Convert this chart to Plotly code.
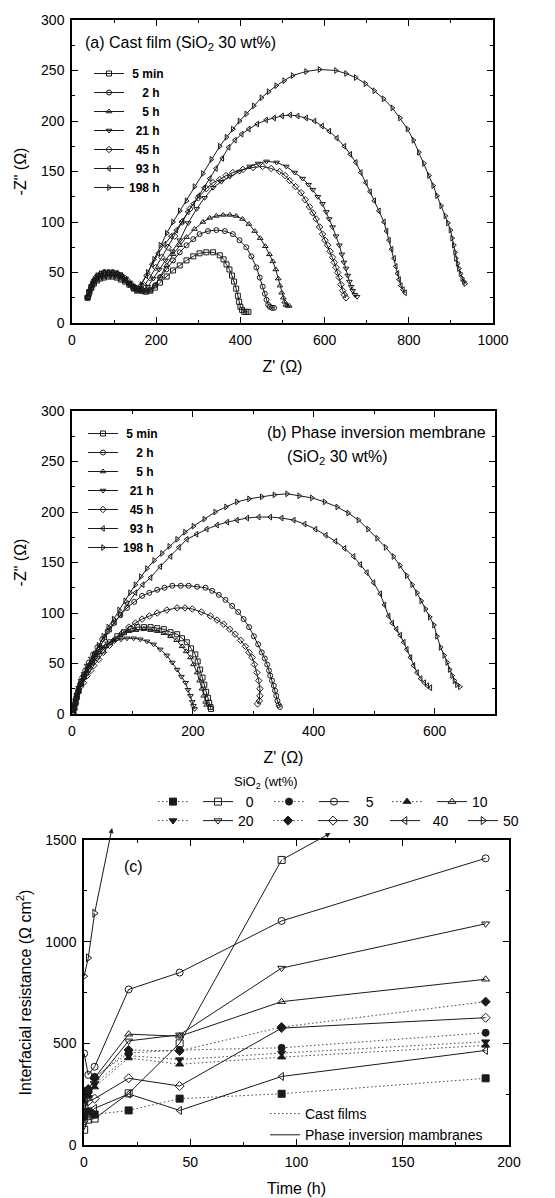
import plotly.graph_objects as go

FONT = "Liberation Sans, Arial, Helvetica, sans-serif"
INK = "#1a1a1a"
DOTS = "1.5px,2.5px"
# the page body adds an 8 px margin; the figure fills the rest of the 555x1198 window
OFF = 8
W, H = 555 - OFF, 1198 - OFF

# ---------------- Panel (a): cast film, SiO2 30 wt% ----------------
a_labels = ["\u00a05 min", "\u00a0\u00a0\u00a0\u00a02 h", "\u00a0\u00a0\u00a0\u00a05 h",
            "\u00a0\u00a021 h", "\u00a0\u00a045 h", "\u00a0\u00a093 h", "198 h"]

a_5min_x = [37, 41, 46, 52, 59, 67, 76, 86, 96, 106, 116, 126, 136, 146, 156, 166, 176, 186, 197, 209,
            225, 240, 256, 272, 288, 303, 319, 335, 351, 360, 367, 374, 380, 385, 390, 394, 397, 400, 404, 409,
            414, 419]
a_5min_y = [25, 30, 35, 39, 42, 44, 45, 46, 46, 45, 43, 41, 38, 35, 33, 32, 31, 32, 35, 40,
            46, 52, 57, 62, 66, 69, 70, 70, 67, 63, 58, 53, 47, 41, 34, 27, 21, 16, 13, 11,
            11, 11]

a_2h_x = [37, 41, 46, 52, 59, 67, 76, 86, 96, 106, 116, 126, 136, 146, 156, 166, 176, 186, 197, 209,
          224, 240, 256, 272, 288, 303, 323, 343, 363, 382, 398, 414, 426, 438, 446, 453, 458, 462, 466, 470,
          475, 480]
a_2h_y = [25, 30, 35, 40, 43, 45, 46, 47, 47, 46, 44, 42, 39, 36, 34, 33, 32, 33, 37, 45,
          53, 62, 70, 77, 83, 88, 91, 92, 91, 88, 82, 75, 66, 55, 45, 36, 29, 23, 18, 16,
          15, 15]

a_5h_x = [37, 41, 46, 52, 59, 67, 76, 86, 96, 106, 116, 126, 136, 146, 156, 166, 176, 186, 198, 210,
          225, 240, 256, 272, 291, 311, 327, 343, 359, 375, 390, 405, 420, 434, 447, 459, 469, 477, 484, 490,
          494, 498, 502, 505, 508, 512, 516]
a_5h_y = [25, 31, 36, 41, 44, 47, 48, 48, 48, 47, 45, 42, 39, 36, 34, 32, 31, 32, 38, 46,
          57, 68, 77, 85, 93, 100, 104, 106, 107, 107, 106, 103, 98, 91, 84, 76, 68, 61, 53, 44,
          37, 30, 25, 21, 18, 17, 17]

a_21h_x = [38, 42, 47, 53, 60, 68, 77, 87, 97, 107, 117, 127, 137, 147, 157, 168, 180, 193, 207, 222,
           238, 256, 276, 296, 315, 335, 355, 375, 398, 422, 442, 462, 486, 509, 529, 548, 562, 572, 584, 595,
           604, 611, 619, 627, 635, 641, 646, 651, 655, 659, 663, 667, 672, 677]
a_21h_y = [26, 32, 37, 42, 46, 48, 50, 50, 50, 49, 47, 44, 40, 36, 33, 31, 36, 44, 53, 62,
           71, 82, 99, 113, 124, 134, 140, 145, 150, 155, 158, 160, 159, 155, 149, 143, 137, 132, 125, 118,
           110, 103, 95, 86, 77, 68, 60, 54, 47, 41, 36, 32, 28, 26]

a_45h_x = [38, 42, 47, 53, 60, 68, 77, 87, 97, 107, 117, 127, 137, 147, 160, 172, 185, 199, 213, 228,
           244, 262, 280, 300, 319, 335, 351, 366, 382, 406, 430, 453, 473, 493, 506, 517, 531, 544, 554, 564,
           572, 580, 588, 595, 601, 607, 613, 619, 623, 627, 631, 635, 639, 643, 647, 651]
a_45h_y = [26, 32, 37, 42, 46, 48, 50, 50, 50, 49, 47, 44, 40, 36, 32, 37, 45, 55, 65, 75,
           86, 100, 113, 124, 133, 139, 142, 146, 149, 152, 154, 155, 153, 150, 146, 141, 135, 129, 122, 115,
           109, 103, 95, 88, 82, 77, 71, 65, 60, 55, 50, 45, 38, 32, 28, 25]

a_93h_x = [38, 42, 47, 53, 60, 68, 77, 87, 97, 107, 117, 127, 137, 145, 152, 162, 176, 190, 205, 220,
           235, 248, 262, 275, 288, 301, 314, 327, 342, 357, 372, 387, 403, 420, 440, 461, 480, 499, 518, 536,
           556, 576, 594, 611, 629, 647, 661, 674, 686, 698, 708, 718, 729, 741, 747, 753, 759, 765, 769, 773,
           777, 781, 786, 791]
a_93h_y = [26, 32, 38, 43, 47, 49, 50, 50, 50, 49, 47, 43, 38, 34, 32, 37, 47, 58, 69, 78,
           86, 92, 101, 110, 118, 126, 134, 143, 153, 163, 174, 181, 187, 192, 197, 201, 203, 205, 206, 205,
           203, 200, 195, 190, 183, 175, 167, 159, 149, 139, 130, 121, 111, 100, 91, 82, 73, 64, 56, 49,
           43, 37, 33, 30]

a_198h_x = [38, 42, 47, 53, 60, 68, 77, 87, 97, 107, 117, 127, 137, 145, 152, 165, 180, 195, 210, 225,
            240, 256, 272, 291, 311, 331, 351, 367, 382, 398, 414, 432, 450, 467, 485, 504, 524, 556, 588, 627,
            651, 674, 697, 718, 740, 761, 779, 797, 811, 824, 836, 848, 858, 867, 877, 887, 893, 899, 903, 907,
            910, 912, 916, 919, 923, 927, 931, 934]
a_198h_y = [26, 32, 38, 43, 47, 49, 50, 50, 50, 49, 47, 43, 38, 34, 32, 38, 50, 63, 77, 89,
            100, 111, 121, 135, 148, 162, 175, 184, 192, 200, 207, 215, 223, 229, 235, 240, 245, 249, 251, 250,
            247, 243, 237, 230, 222, 213, 203, 192, 181, 169, 158, 146, 136, 126, 116, 106, 99, 92, 84, 77,
            70, 64, 59, 54, 49, 44, 41, 39]

# ---------------- Panel (b): phase inversion membrane, SiO2 30 wt% ----------------
b_labels = a_labels

b_5min_x = [2, 4, 6, 8, 11, 15, 20, 26, 33, 41, 51, 63, 75, 86, 97, 108, 119, 130, 141, 152,
            163, 174, 182, 190, 197, 204, 208, 212, 216, 219, 222, 225, 227, 229, 230]
b_5min_y = [1, 6, 11, 17, 23, 30, 37, 44, 51, 57, 63, 71, 77, 81, 84, 86, 86, 86, 85, 84,
            81, 79, 75, 71, 65, 59, 52, 44, 36, 29, 22, 16, 11, 7, 5]

b_2h_x = [2, 3, 5, 7, 10, 13, 17, 22, 28, 35, 42, 50, 59, 69, 80, 91, 103, 116, 128, 141,
          153, 166, 180, 193, 207, 221, 232, 243, 254, 265, 275, 284, 293, 301, 308, 314, 319, 323, 326, 328,
          331, 334, 336, 338, 340, 342, 344]
b_2h_y = [1, 5, 10, 16, 22, 29, 36, 43, 51, 59, 66, 74, 82, 90, 98, 105, 111, 117, 120, 123,
          125, 127, 127, 127, 126, 125, 122, 118, 113, 107, 101, 94, 86, 77, 69, 61, 55, 49, 43, 38,
          33, 28, 23, 18, 13, 9, 7]

b_5h_x = [2, 4, 6, 8, 11, 15, 20, 27, 35, 44, 55, 68, 80, 94, 106, 119, 130, 141, 152, 163,
          173, 182, 189, 196, 201, 207, 211, 215, 218, 221, 223]
b_5h_y = [1, 6, 12, 18, 25, 32, 39, 47, 54, 61, 67, 73, 78, 82, 83, 84, 83, 82, 80, 77,
          73, 67, 62, 56, 49, 41, 33, 25, 18, 12, 9]

b_21h_x = [2, 4, 6, 8, 11, 15, 20, 25, 32, 40, 49, 59, 70, 81, 91, 102, 113, 124, 135, 146,
           157, 166, 174, 181, 188, 192, 196, 199, 201, 203]
b_21h_y = [1, 7, 13, 19, 26, 33, 40, 48, 55, 61, 66, 70, 72, 74, 75, 75, 74, 72, 69, 64,
           58, 51, 44, 37, 31, 24, 18, 12, 8, 5]

b_45h_x = [2, 3, 5, 7, 10, 14, 19, 25, 31, 36, 44, 52, 62, 72, 83, 94, 105, 116, 128, 141,
           157, 174, 187, 199, 214, 229, 240, 251, 261, 270, 279, 287, 293, 298, 302, 306, 309, 311, 311, 310,
           307]
b_45h_y = [1, 5, 10, 15, 21, 27, 31, 38, 43, 48, 54, 61, 68, 74, 80, 86, 90, 94, 97, 100,
           103, 105, 105, 104, 101, 97, 93, 89, 84, 79, 73, 67, 61, 56, 49, 41, 33, 25, 18, 13,
           10]

b_93h_x = [2, 4, 6, 9, 12, 17, 25, 33, 40, 47, 55, 63, 71, 80, 92, 105, 117, 130, 146, 163,
           177, 190, 206, 223, 240, 257, 273, 290, 309, 328, 347, 367, 385, 403, 420, 436, 451, 466, 477, 488,
           499, 510, 517, 524, 530, 537, 543, 549, 554, 560, 565, 571, 577, 583, 588, 593]
b_93h_y = [1, 6, 12, 18, 24, 31, 41, 51, 59, 67, 76, 84, 91, 98, 109, 120, 128, 135, 146, 156,
           165, 173, 178, 183, 187, 190, 192, 194, 195, 195, 194, 192, 188, 183, 177, 171, 164, 156, 148, 140,
           130, 119, 108, 97, 90, 84, 78, 71, 64, 56, 48, 41, 35, 31, 28, 26]

b_198h_x = [2, 4, 7, 10, 14, 19, 27, 36, 44, 52, 60, 69, 78, 88, 96, 105, 114, 124, 136, 149,
            161, 174, 187, 201, 219, 237, 255, 273, 293, 314, 335, 356, 376, 397, 418, 439, 457, 474, 490, 505,
            519, 532, 543, 554, 563, 571, 578, 585, 592, 599, 604, 610, 616, 621, 625, 629, 633, 637, 642]
b_198h_y = [1, 7, 14, 22, 29, 35, 47, 58, 68, 77, 86, 94, 103, 112, 120, 128, 136, 144, 152, 159,
            166, 173, 180, 186, 193, 200, 205, 210, 213, 215, 217, 218, 216, 214, 210, 205, 199, 192, 183, 174,
            165, 156, 147, 137, 128, 120, 112, 104, 96, 88, 77, 66, 58, 51, 44, 38, 33, 29, 27]

# ---------------- Panel (c): interfacial resistance vs time ----------------
c_time = [0.08, 2, 5, 21, 45, 93, 189]
# cast films (filled markers, dotted)
c_cast_0 = [140, 165, 150, 170, 228, 252, 328]
c_cast_5 = [250, 262, 335, 452, 467, 478, 552]
c_cast_10 = [215, 240, 285, 428, 397, 432, 490]
c_cast_20 = [230, 255, 300, 440, 420, 452, 508]
c_cast_30 = [262, 275, 330, 467, 463, 580, 705]
# phase inversion membranes (open markers, solid)
c_pi_0 = [75, 125, 130, 254, 500, 1402]
c_pi_5 = [450, 345, 385, 765, 848, 1102, 1410]
c_pi_10 = [205, 265, 330, 545, 535, 705, 815]
c_pi_20 = [165, 235, 305, 512, 542, 870, 1088]
c_pi_30 = [185, 215, 228, 328, 290, 575, 626]
c_pi_40 = [115, 150, 180, 251, 170, 337, 465]
c_pi_50 = [830, 920, 1140]
# where the off-scale arrows point (time, resistance)
c_arrow_0 = [116, 1534]
c_arrow_50 = [13.2, 1559]
c_legend_labels = ["0", "5", "10", "20", "30", "40", "50"]

OPEN_SYMS = ["square-open", "circle-open", "triangle-up-open", "triangle-down-open",
             "diamond-open", "triangle-left-open", "triangle-right-open"]
FILLED_SYMS = ["square", "circle", "triangle-up", "triangle-down", "diamond"]

fig = go.Figure()


def curve(xs, ys, name, sym, xa, ya, leg, size=5, dash="solid", color=INK, legendwidth=None):
    kw = {}
    if legendwidth is not None:
        kw["legendwidth"] = legendwidth
    fig.add_trace(go.Scatter(
        x=xs, y=ys, name=name, mode="lines+markers", xaxis=xa, yaxis=ya, legend=leg,
        line=dict(color=color, width=1, dash=dash),
        marker=dict(symbol=sym, size=size, color=INK, line=dict(width=1, color=INK)), **kw))


a_series = [(a_5min_x, a_5min_y), (a_2h_x, a_2h_y), (a_5h_x, a_5h_y), (a_21h_x, a_21h_y),
            (a_45h_x, a_45h_y), (a_93h_x, a_93h_y), (a_198h_x, a_198h_y)]
for (xs, ys), lab, sym in zip(a_series, a_labels, OPEN_SYMS):
    curve(xs, ys, lab, sym, "x", "y", "legend")

b_series = [(b_5min_x, b_5min_y), (b_2h_x, b_2h_y), (b_5h_x, b_5h_y), (b_21h_x, b_21h_y),
            (b_45h_x, b_45h_y), (b_93h_x, b_93h_y), (b_198h_x, b_198h_y)]
for (xs, ys), lab, sym in zip(b_series, b_labels, OPEN_SYMS):
    curve(xs, ys, lab, sym, "x2", "y2", "legend2")

cast = [c_cast_0, c_cast_5, c_cast_10, c_cast_20, c_cast_30]
pi = [c_pi_0, c_pi_5, c_pi_10, c_pi_20, c_pi_30, c_pi_40, c_pi_50]
nb = "\u00a0"
pad = [2, 3, 0, 0, 0, 2, 0]
pi_names = [nb * p + lab for p, lab in zip(pad, c_legend_labels)]
pi_widths = [26, 28, None, 25, 27, 33, None]
# row 1 of the concentration legend: 0, 5, 10 ; row 2: 20, 30, 40, 50
for i in range(7):
    leg = "legend3" if i < 3 else "legend4"
    if i < 5:
        curve(c_time[:len(cast[i])], cast[i], "", FILLED_SYMS[i], "x3", "y3", leg,
              size=7, dash=DOTS, color="#444444")
    curve(c_time[:len(pi[i])], pi[i], pi_names[i], OPEN_SYMS[i], "x3", "y3", leg,
          size=7, legendwidth=pi_widths[i])

# line-style key inside panel (c)
for nm, dsh, col in [("Cast films", DOTS, "#444444"), ("Phase inversion mambranes", "solid", INK)]:
    fig.add_trace(go.Scatter(x=[None], y=[None], mode="lines", name=nm, xaxis="x3", yaxis="y3",
                             legend="legend5", line=dict(color=col, width=1, dash=dsh)))


def fx(px):
    return (px - OFF) / W


def fy(py):
    return 1 - (py - OFF) / H


def axis(dom, rng, dtick, mdtick, title, anchor, standoff):
    return dict(domain=dom, range=rng, dtick=dtick, tick0=0, anchor=anchor,
                showline=True, linecolor="black", linewidth=1.5, mirror="ticks",
                ticks="inside", ticklen=6, tickwidth=1, tickcolor="black",
                showgrid=False, zeroline=False, ticklabelstandoff=3,
                tickfont=dict(size=14, color="black", family=FONT),
                minor=dict(ticks="inside", ticklen=3, tickwidth=1, tickcolor="black",
                           dtick=mdtick, tick0=0, showgrid=False),
                title=dict(text=title, font=dict(size=16, color="black", family=FONT),
                           standoff=standoff))


def legend_cfg(x, y, size, weight="normal", **extra):
    d = dict(x=x, y=y, bgcolor="rgba(0,0,0,0)", borderwidth=0, xanchor="left", yanchor="top",
             tracegroupgap=0, font=dict(size=size, color="black", family=FONT, weight=weight))
    d.update(extra)
    return d


fig.update_layout(
    width=W, height=H, margin=dict(l=0, r=0, t=0, b=0),
    template="none", paper_bgcolor="white", plot_bgcolor="white",
    font=dict(family=FONT, color="black", size=14),
    xaxis=axis([fx(72), fx(493)], [0, 1000], 200, 100, "Z' (\u03a9)", "y", 14),
    yaxis=axis([fy(323), fy(20)], [0, 300], 50, 25, '-Z" (\u03a9)', "x", 10),
    xaxis2=axis([fx(72), fx(495)], [0, 700], 200, 100, "Z' (\u03a9)", "y2", 14),
    yaxis2=axis([fy(714), fy(411)], [0, 300], 50, 25, '-Z" (\u03a9)', "x2", 10),
    xaxis3=axis([fx(84), fx(509)], [0, 200], 50, 25, "Time (h)", "y3", 14),
    yaxis3=axis([fy(1145), fy(840)], [0, 1500], 500, 250,
                "Interfacial resistance (\u03a9 cm<sup>2</sup>)", "x3", 10),
    legend=legend_cfg(fx(89), fy(59), 12, "bold"),
    legend2=legend_cfg(fx(83), fy(419), 12, "bold"),
    legend3=legend_cfg(fx(153), fy(786), 14, orientation="h"),
    legend4=legend_cfg(fx(153), fy(805), 14, orientation="h"),
    legend5=legend_cfg(fx(265), fy(1098), 14),
)

ann_font = dict(family=FONT, color="black", size=16)
annotations = [
    dict(text="(a) Cast film (SiO<sub>2</sub> 30 wt%)", x=fx(83), y=fy(43), xanchor="left"),
    dict(text="(b) Phase inversion membrane", x=fx(488), y=fy(432), xanchor="right"),
    dict(text="(SiO<sub>2</sub> 30 wt%)", x=fx(337), y=fy(457), xanchor="center"),
    dict(text="(c)", x=fx(133), y=fy(866), xanchor="center"),
    dict(text="SiO<sub>2</sub> (wt%)", x=fx(266), y=fy(782), xanchor="center",
         font=dict(family=FONT, color="black", size=13)),
]
anns = []
for a in annotations:
    a.setdefault("font", ann_font)
    anns.append(dict(xref="paper", yref="paper", yanchor="middle", showarrow=False, **a))

for (t0, r0), (t1, r1) in [((c_time[5], c_pi_0[5]), c_arrow_0), ((c_time[2], c_pi_50[2]), c_arrow_50)]:
    anns.append(dict(x=t1, y=r1, ax=t0, ay=r0, xref="x3", yref="y3", axref="x3", ayref="y3",
                     text="", showarrow=True, arrowhead=2, arrowsize=1, arrowwidth=1,
                     arrowcolor=INK, standoff=0, startstandoff=0))
fig.update_layout(annotations=anns)

fig.write_html("out.html")
